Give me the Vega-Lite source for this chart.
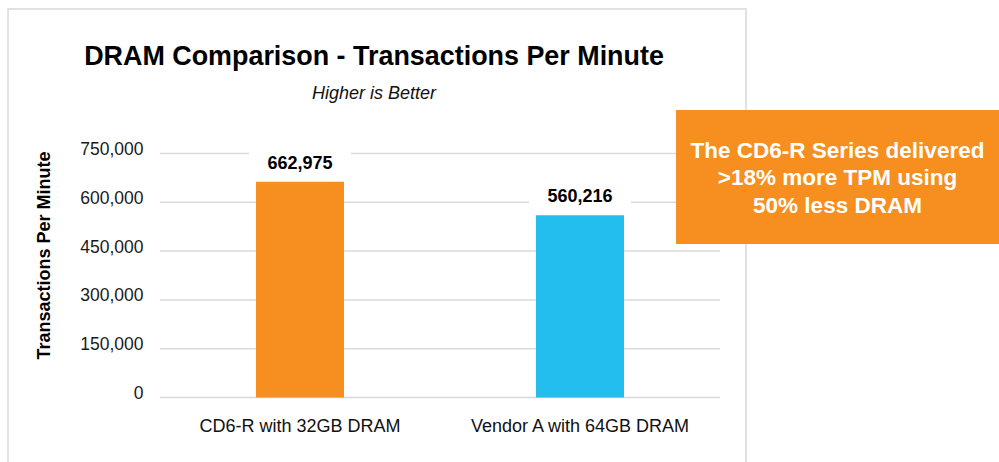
{
  "$schema": "https://vega.github.io/schema/vega-lite/v6.json",
  "autosize": "none",
  "padding": {"left": 8, "top": 9, "right": 253, "bottom": -1},
  "width": 738,
  "height": 454,
  "background": "white",
  "config": {"font": "Liberation Sans"},
  "view": {"stroke": "#d9d9d9", "strokeWidth": 1.5},
  "datasets": {
    "tpm": [
      {"config": "CD6-R with 32GB DRAM", "tpm": 662975},
      {"config": "Vendor A with 64GB DRAM", "tpm": 560216}
    ],
    "ticks": [{"v": 0}, {"v": 150000}, {"v": 300000}, {"v": 450000}, {"v": 600000}, {"v": 750000}],
    "note": [{"text": "The CD6-R Series delivered\n>18% more TPM using\n50% less DRAM"}]
  },
  "title": {
    "text": "DRAM Comparison - Transactions Per Minute",
    "subtitle": "Higher is Better",
    "fontSize": 26.9,
    "fontWeight": "bold",
    "color": "#000000",
    "subtitleFontSize": 18,
    "subtitleFontStyle": "italic",
    "subtitleColor": "#111111",
    "subtitlePadding": 14,
    "anchor": "middle",
    "dx": -3,
    "offset": -95
  },
  "layer": [
    {
      "data": {"name": "ticks"},
      "mark": {"type": "rule", "color": "#d9d9d9", "strokeWidth": 1.5},
      "encoding": {
        "y": {
          "field": "v",
          "type": "quantitative",
          "scale": {"domain": [-201332, 1194160], "nice": false, "zero": false},
          "axis": {
            "values": [0, 150000, 300000, 450000, 600000, 750000],
            "format": ",d",
            "title": "Transactions Per Minute",
            "grid": false,
            "domain": false,
            "ticks": false,
            "tickSize": 0,
            "offset": -152,
            "labelPadding": 17,
            "labelFontSize": 17.5,
            "labelColor": "#1a1a1a",
            "labelOffset": -4,
            "titleFontSize": 18,
            "titleFontWeight": "bold",
            "titleColor": "#000000",
            "titleX": -111,
            "titleY": 246,
            "titleAlign": "center",
            "titleBaseline": "alphabetic",
            "titleAngle": -90
          }
        },
        "x": {
          "datum": "CD6-R with 32GB DRAM",
          "type": "nominal",
          "bandPosition": 0,
          "scale": {
            "type": "band",
            "domain": ["CD6-R with 32GB DRAM", "Vendor A with 64GB DRAM"],
            "paddingInner": 0,
            "paddingOuter": 0.31786,
            "align": 0.85393
          },
          "axis": {
            "title": null,
            "domain": false,
            "ticks": false,
            "tickSize": 0,
            "offset": -65.5,
            "labelPadding": 33.5,
            "labelBaseline": "alphabetic",
            "labelAngle": 0,
            "labelLimit": 400,
            "labelFontSize": 18,
            "labelColor": "#111111"
          }
        },
        "x2": {"datum": "Vendor A with 64GB DRAM", "bandPosition": 1}
      }
    },
    {
      "data": {"name": "tpm"},
      "mark": {"type": "bar", "color": "white", "width": {"band": 0.364}, "yOffset": -36, "y2Offset": -2},
      "encoding": {
        "x": {"field": "config", "type": "nominal"},
        "y": {"field": "tpm", "type": "quantitative"},
        "y2": {"field": "tpm"}
      }
    },
    {
      "data": {"name": "tpm"},
      "mark": {"type": "bar", "width": {"band": 0.3143}},
      "encoding": {
        "x": {"field": "config", "type": "nominal"},
        "y": {"field": "tpm", "type": "quantitative"},
        "y2": {"datum": 0},
        "color": {
          "field": "config",
          "type": "nominal",
          "scale": {"domain": ["CD6-R with 32GB DRAM", "Vendor A with 64GB DRAM"], "range": ["#F68E20", "#24BEEE"]},
          "legend": null
        }
      }
    },
    {
      "data": {"name": "tpm"},
      "mark": {"type": "text", "fontSize": 18, "fontWeight": "bold", "color": "#000000", "baseline": "alphabetic", "dy": -13},
      "encoding": {
        "x": {"field": "config", "type": "nominal"},
        "y": {"field": "tpm", "type": "quantitative"},
        "text": {"field": "tpm", "type": "quantitative", "format": ",d"}
      }
    },
    {
      "data": {"name": "note"},
      "mark": {"type": "rect", "color": "#F68E20", "clip": false},
      "encoding": {
        "x": {"datum": "Vendor A with 64GB DRAM", "type": "nominal", "bandPosition": 0.843},
        "x2": {"datum": "Vendor A with 64GB DRAM", "bandPosition": 2.02},
        "y": {"datum": 883709, "type": "quantitative"},
        "y2": {"datum": 471824}
      }
    },
    {
      "data": {"name": "note"},
      "mark": {"type": "text", "lineBreak": "\n", "fontSize": 22.5, "fontWeight": "bold", "color": "white", "lineHeight": 27.5, "align": "center", "baseline": "middle", "clip": false},
      "encoding": {
        "x": {"datum": "Vendor A with 64GB DRAM", "type": "nominal", "bandPosition": 1.4196},
        "y": {"datum": 759221, "type": "quantitative"},
        "text": {"field": "text"}
      }
    }
  ]
}
